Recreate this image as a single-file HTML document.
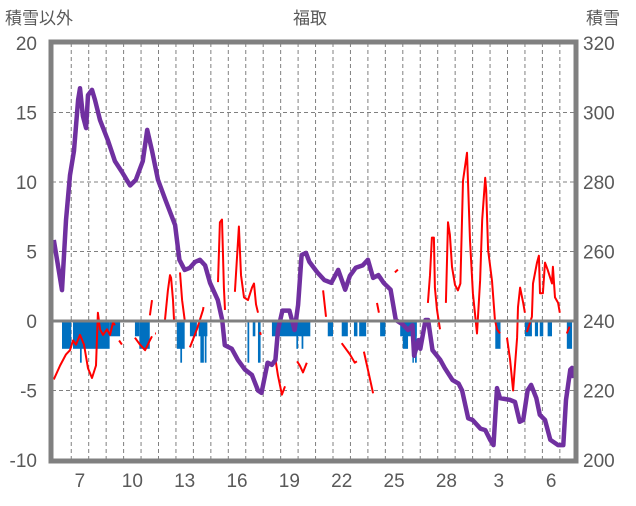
<!DOCTYPE html>
<html><head><meta charset="utf-8">
<style>
body{margin:0;background:#fff;}
svg text{font-family:"Liberation Sans","Noto Sans CJK JP",sans-serif;fill:#595959;}
</style></head>
<body>
<svg id="chart" width="636" height="501" viewBox="0 0 636 501">
<text x="5" y="24" font-size="17">積雪以外</text>
<text x="310" y="24" font-size="17" text-anchor="middle">福取</text>
<text x="586" y="24" font-size="17">積雪</text>
<g id="grid"></g>
<g id="bars"></g>
<g id="lines"></g>
<g id="axes"></g>
</svg>
<script>
const leftTicks=[-10,-5,0,5,10,15,20];
const rightTicks=[200,220,240,260,280,300,320];
const dayLabels=["7","10","13","16","19","22","25","28","3","6"];
const dayLabelIdx=[1,4,7,10,13,16,19,22,25,28];
const snowDay=[0,0.47,0.7,0.93,1.16,1.39,1.5,1.67,1.85,1.96,2.19,2.36,2.65,3.1,3.5,3.9,4.37,4.7,5.1,5.35,5.63,5.97,6.4,6.95,7.2,7.5,7.8,8.1,8.37,8.67,8.95,9.4,9.65,9.8,10.2,10.55,10.95,11.35,11.7,11.9,12.25,12.5,12.7,12.85,13.1,13.5,13.8,14.0,14.2,14.45,14.65,15.1,15.5,15.9,16.3,16.7,16.97,17.3,17.7,18.0,18.3,18.6,18.9,19.3,19.6,20.0,20.3,20.55,20.65,20.9,21.0,21.3,21.45,21.7,22.15,22.4,22.85,23.2,23.4,23.75,24.0,24.45,24.73,25.0,25.2,25.4,25.57,26.15,26.43,26.7,26.9,27.15,27.35,27.65,27.85,28.15,28.45,28.9,29.2,29.35,29.6,29.7,29.8];
const snowVal=[263.3,248.9,269,282,289,303.6,307,299,295.5,305,306.5,303.6,297.8,292,286,282.9,279,280.6,286,295,289,280.6,274.8,267.6,257.6,254.7,255.3,257,257.6,256,251,246,240.3,233,232,228.8,226,224.5,220,219.3,228,227.4,228.8,237.4,243,243,237.4,244.6,259,259.6,257,254,251.8,251,254.7,249,253,255.3,256,257.6,252.4,253.2,251,249,240.3,239,237.4,238.8,230,234.5,232,240.3,240.3,231.6,228.8,226.5,223,222,220,212,211.5,209,208.6,205.8,204.3,220.7,217.8,217.3,216.7,211,211.5,220,221.6,217.8,213,211.5,205.8,204.3,204.3,217.3,226,226.5,223.6];
const tempDay=[0,.36,.7,.93,1.1,1.27,1.5,1.73,1.96,2.19,2.42,2.53,2.65,2.82,3.05,3.22,3.4,3.5,null,3.74,3.9,null,4.65,4.94,5.23,5.5,5.63,null,5.51,5.63,null,5.8,5.85,null,6.37,6.54,6.66,6.72,6.83,6.89,null,7.23,7.35,7.52,null,7.8,8.2,8.55,8.58,null,9.41,9.52,9.64,9.75,9.81,null,10.38,10.61,10.73,10.9,11.13,11.36,11.47,11.59,11.7,null,11.82,11.86,null,12.68,12.84,13.07,13.25,null,13.94,14.1,14.28,14.5,null,15.43,15.6,null,16.5,16.97,17.25,17.37,null,17.77,18,18.3,null,18.52,18.63,null,19.55,19.72,null,21.44,21.56,21.67,21.78,21.84,21.96,22.13,null,22.47,22.59,22.7,22.82,22.99,23.16,23.3,23.45,23.68,23.85,24.02,24.25,24.43,24.55,24.72,24.78,24.89,25.11,25.28,25.4,25.57,null,25.97,26.15,26.32,26.55,26.6,26.72,26.9,27,null,27.11,27.4,27.46,27.69,27.8,27.86,28.03,28.15,28.3,28.55,28.6,28.72,28.9,29,null,29.4,29.56];
const tempVal=[-4.2,-3.2,-2.4,-2.1,-1.4,-1.7,-1,-1.7,-3.4,-4.1,-3.2,0.6,-0.6,-1,-0.6,-1,-0.1,-0.3,null,-1.4,-1.7,null,-1.2,-1.7,-2.1,-1.4,-1.1,null,0.4,1.5,null,-0.9,-0.9,null,0.1,2.2,3.3,3.1,1.5,0.1,null,3.5,1.5,-0.1,null,-1.9,-0.6,0.8,1,null,2.8,7.1,7.3,2.4,0.8,null,2.1,6.8,3.3,1.7,1.5,2.4,2.7,1.2,0.6,null,-0.8,-1,null,-2.6,-3.9,-5.3,-4.7,null,-2.9,-3.2,-3.7,-3.0,null,2.2,0.3,null,-1.6,-2.4,-3,-2.9,null,-2.2,-3.5,-5.2,null,1.3,0.6,null,3.5,3.7,null,1.3,3.3,6,6,2.4,0.8,-0.6,null,1.3,7.1,6.2,3.9,2.6,2.2,2.7,10.1,12.1,5.8,2,-0.9,2.9,7.3,10.3,9.4,5.1,2.9,0.1,-0.6,-0.9,null,-1.2,-2.8,-5,-1.2,1,2.4,1.3,0.6,null,-0.8,0.3,2.7,4.2,4.7,2,2,4.2,3.7,2.7,3.9,1.7,1.3,0.6,null,-0.9,-0.4];
const barStart=[0.47,1.1,1.5,2.5,3.2,4.65,4.9,7.05,7.25,7.8,8.3,8.4,8.65,11.1,11.4,11.7,12.5,13.9,14.2,15.7,16.5,17.2,17.5,18.7,19.85,20.0,20.55,20.7,25.3,27.0,27.57,27.85,28.3,29.4];
const barEnd=[1.0,2.5,1.6,3.2,3.8,4.9,5.5,7.5,7.35,8.2,8.8,8.6,8.75,11.2,11.55,11.85,14.7,14.0,14.3,16.0,16.85,17.4,17.9,19.0,20.8,20.3,20.6,20.8,25.6,27.4,27.75,28.05,28.55,29.7];
const barVal=[-2,-2,-3,-2,-1.1,-1.1,-2,-2,-3,-1.1,-1.1,-3,-3,-3,-1.1,-3,-1.1,-2,-2,-1.1,-1.1,-1.1,-1.1,-1.1,-1.1,-2,-3,-3,-2,-1.1,-1.1,-1.1,-1.1,-2];

const NS="http://www.w3.org/2000/svg";
const L=52,R=575,T=43,B=460,X0=53.8,DW=17.45;
const xs=d=>X0+d*DW;
const yl=v=>B-(v+10)/30*(B-T);
const yr=v=>B-(v-200)/120*(B-T);
function mk(tag,parent,attrs){const e=document.createElementNS(NS,tag);for(const k in attrs)e.setAttribute(k,attrs[k]);parent.appendChild(e);return e;}
const grid=document.getElementById('grid'),bars=document.getElementById('bars'),lines=document.getElementById('lines'),axes=document.getElementById('axes');
leftTicks.forEach((t,i)=>{
  if(t!==-10&&t!==20&&t!==0){const g=mk('line',grid,{x1:L,x2:R,y1:yl(t),y2:yl(t),stroke:'#808080','stroke-width':1,'stroke-dasharray':'4,3'});
  
  }
  const tx=mk('text',axes,{x:37,y:yl(t)+7,'font-size':19,'text-anchor':'end'});tx.textContent=t;
  
  
  const rt=mk('text',axes,{x:583,y:yr(rightTicks[i])+7,'font-size':19});rt.textContent=rightTicks[i];
  
  
});
for(let d=1;d<=29;d++){const g=mk('line',grid,{x1:xs(d),x2:xs(d),y1:T,y2:B,stroke:'#808080','stroke-width':1,'stroke-dasharray':'4,3'});
  
  }
dayLabels.forEach((s,i)=>{const t=mk('text',axes,{x:xs(dayLabelIdx[i]+0.5),y:487,'font-size':19,'text-anchor':'middle'});t.textContent=s;
  
  });
barStart.forEach((s,i)=>{const r=mk('rect',bars,{x:xs(s),y:yl(0),width:Math.max(1.5,xs(barEnd[i])-xs(s)),height:yl(barVal[i])-yl(0),fill:'#0070C0'});
  
  });
let p='',pen=false;
tempDay.forEach((d,i)=>{if(d===null||tempVal[i]===null){pen=false;return;}p+=(pen?'L':'M')+xs(d).toFixed(1)+' '+yl(tempVal[i]).toFixed(1)+' ';pen=true;});
const tl=mk('path',lines,{d:p,fill:'none',stroke:'#FF0000','stroke-width':2,'stroke-linejoin':'round'});


const zl=mk('line',axes,{x1:L,x2:R,y1:yl(0),y2:yl(0),stroke:'#808080','stroke-width':3});


const sp=snowDay.map((d,i)=>(i?'L':'M')+xs(d).toFixed(1)+' '+yr(snowVal[i]).toFixed(1)).join(' ');
const sl=mk('path',lines,{d:sp,fill:'none',stroke:'#7030A0','stroke-width':4.5,'stroke-linejoin':'round'});


const fr=mk('rect',axes,{x:L-1,y:T-1,width:R-L+2,height:B-T+2,fill:'none',stroke:'#808080','stroke-width':5});


</script>
</body></html>
